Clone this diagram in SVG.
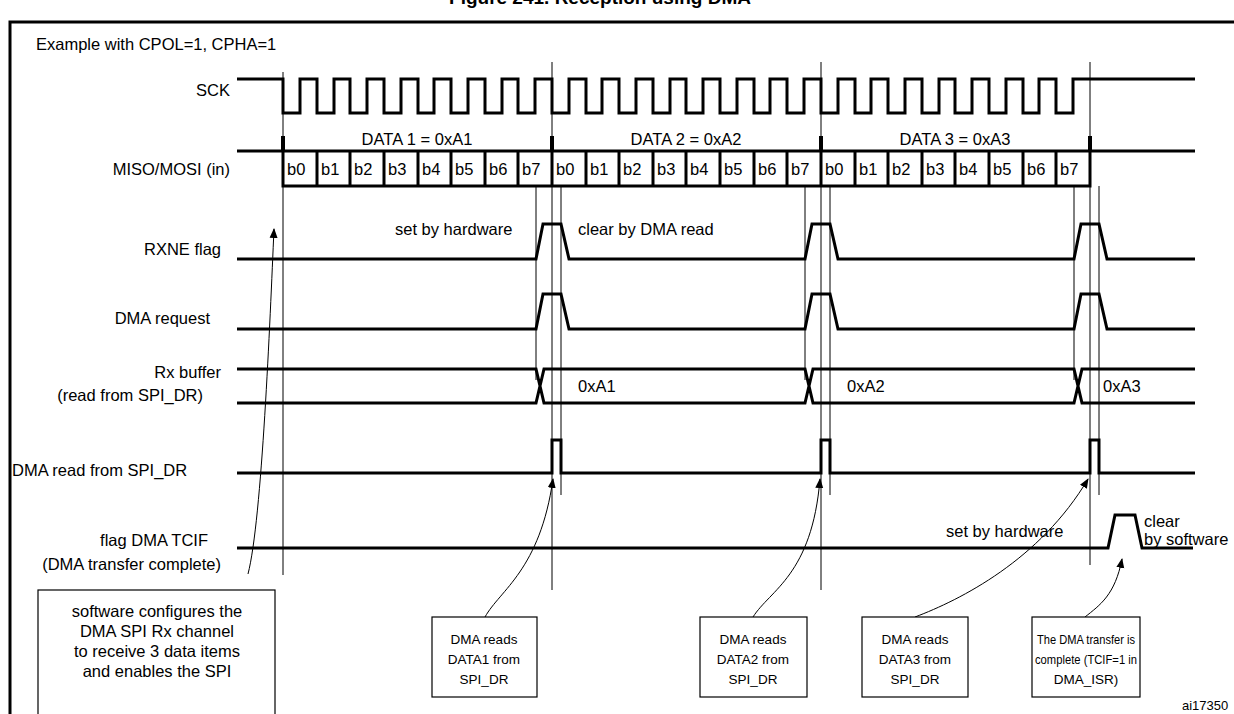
<svg xmlns="http://www.w3.org/2000/svg" width="1234" height="714" viewBox="0 0 1234 714">
<style>
text{font-family:"Liberation Sans",Arial,sans-serif;font-size:16.5px;fill:#000}
.r{text-anchor:end}.m{text-anchor:middle}
.sb{font-size:13.5px}
.s{fill:none;stroke:#000;stroke-width:3}
.t{fill:none;stroke:#000;stroke-width:1}
.box{fill:#fff;stroke:#000;stroke-width:1.2}
.a{fill:none;stroke:#000;stroke-width:1;marker-end:url(#ar)}
</style>
<defs><marker id="ar" markerWidth="10" markerHeight="10" refX="9" refY="5" orient="auto" markerUnits="userSpaceOnUse"><path d="M0,1 L10,5 L0,9 z" fill="#000"/></marker></defs>
<rect width="1234" height="714" fill="#fff"/>
<text x="600" y="4" class="m" style="font-weight:bold;font-size:19px">Figure 241. Reception using DMA</text>
<path d="M10,714 V22 H1234" fill="none" stroke="#000" stroke-width="3"/>
<text x="36" y="50">Example with CPOL=1, CPHA=1</text>
<g id="labels">
<text x="230" y="96" class="r">SCK</text>
<text x="230" y="175" class="r">MISO/MOSI (in)</text>
<text x="221" y="255" class="r">RXNE flag</text>
<text x="210" y="324" class="r">DMA request</text>
<text x="221" y="378" class="r">Rx buffer</text>
<text x="203" y="401" class="r">(read from SPI_DR)</text>
<text x="12" y="476">DMA read from SPI_DR</text>
<text x="208" y="546" class="r">flag DMA TCIF</text>
<text x="221" y="570" class="r">(DMA transfer complete)</text>
</g>
<g id="guides">
<path class="t" d="M283,72V575 M552,62V590 M821,62V590 M1090,62V565"/>
<path class="t" d="M536,186V380 M805,186V380 M1074,186V380 M561,186V495 M830,186V495 M1099,186V495"/>
</g>
<g id="sck">
<path class="s" d="M237,79 H283 V113 H300 V79 H317 V113 H334 V79 H350 V113 H367 V79 H384 V113 H401 V79 H418 V113 H434 V79 H451 V113 H468 V79 H485 V113 H502 V79 H518 V113 H535 V79 H552 V113 H569 V79 H586 V113 H602 V79 H619 V113 H636 V79 H653 V113 H670 V79 H686 V113 H703 V79 H720 V113 H737 V79 H754 V113 H770 V79 H787 V113 H804 V79 H821 V113 H838 V79 H855 V113 H871 V79 H888 V113 H905 V79 H922 V113 H939 V79 H955 V113 H972 V79 H989 V113 H1006 V79 H1023 V113 H1039 V79 H1056 V113 H1073 V79 H1195"/>
</g>
<g id="miso">
<path class="s" d="M237,151 H1195 M283,151 V186 H1090 V151"/>
<path class="s" d="M317,151V186 M350,151V186 M384,151V186 M418,151V186 M451,151V186 M485,151V186 M518,151V186 M552,151V186 M586,151V186 M619,151V186 M653,151V186 M686,151V186 M720,151V186 M754,151V186 M787,151V186 M821,151V186 M855,151V186 M888,151V186 M922,151V186 M955,151V186 M989,151V186 M1023,151V186 M1056,151V186"/>
<path d="M283,136V151 M552,136V151 M821,136V151 M1090,136V151" stroke="#000" stroke-width="4"/>
<text x="417" y="145" class="m">DATA 1 = 0xA1</text>
<text x="686" y="145" class="m">DATA 2 = 0xA2</text>
<text x="955" y="145" class="m">DATA 3 = 0xA3</text>
<g style="font-size:16px">
<text x="287" y="175">b0</text><text x="321" y="175">b1</text><text x="354" y="175">b2</text><text x="388" y="175">b3</text><text x="422" y="175">b4</text><text x="455" y="175">b5</text><text x="489" y="175">b6</text><text x="522" y="175">b7</text>
<text x="556" y="175">b0</text><text x="590" y="175">b1</text><text x="623" y="175">b2</text><text x="657" y="175">b3</text><text x="690" y="175">b4</text><text x="724" y="175">b5</text><text x="758" y="175">b6</text><text x="791" y="175">b7</text>
<text x="825" y="175">b0</text><text x="859" y="175">b1</text><text x="892" y="175">b2</text><text x="926" y="175">b3</text><text x="959" y="175">b4</text><text x="993" y="175">b5</text><text x="1027" y="175">b6</text><text x="1060" y="175">b7</text>
</g>
</g>
<g id="rxne">
<path class="s" d="M237,259 H536 L543,224 H561 L569,259 H805 L812,224 H830 L838,259 H1074 L1081,224 H1099 L1107,259 H1195"/>
<text x="395" y="235">set by hardware</text>
<text x="578" y="235">clear by DMA read</text>
</g>
<g id="dmareq">
<path class="s" d="M237,329 H536 L543,294 H561 L569,329 H805 L812,294 H830 L838,329 H1074 L1081,294 H1099 L1107,329 H1195"/>
</g>
<g id="rxbuf">
<path class="s" d="M237,369 H536 L544,403 H805 L813,369 H1074 L1082,403 H1195 M237,403 H536 L544,369 H805 L813,403 H1074 L1082,369 H1195"/>
<text x="578" y="392">0xA1</text>
<text x="847" y="392">0xA2</text>
<text x="1103" y="392">0xA3</text>
</g>
<g id="dmaread">
<path class="s" d="M237,473 H552 V440 H561 V473 H821 V440 H830 V473 H1090 V440 H1099 V473 H1195"/>
</g>
<g id="tcif">
<path class="s" d="M237,548 H1108 L1115,515 H1135 L1142,548 H1193"/>
<text x="946" y="537">set by hardware</text>
<text x="1144" y="527">clear</text>
<text x="1144" y="545">by software</text>
</g>
<g id="connectors">
<path class="a" d="M248,574 C262,520 270,320 274,229"/>
<path class="a" d="M485,617 C500,590 540,570 553,479"/>
<path class="a" d="M753,617 C770,590 812,575 820,479"/>
<path class="a" d="M915,617 C960,600 1040,560 1088,479"/>
<path class="a" d="M1085,617 C1100,605 1115,595 1122,559"/>
</g>
<g id="box1"><rect class="box" x="38" y="590" width="237" height="130"/>
<text x="157" y="617" class="m">software configures the</text><text x="157" y="637" class="m">DMA SPI Rx channel</text><text x="157" y="657" class="m">to receive 3 data items</text><text x="157" y="677" class="m">and enables the SPI</text></g>
<g id="box2"><rect class="box" x="432" y="617" width="105" height="80"/>
<text x="484" y="644" class="m sb">DMA reads</text><text x="484" y="664" class="m sb">DATA1 from</text><text x="484" y="684" class="m sb">SPI_DR</text></g>
<g id="box3"><rect class="box" x="700" y="617" width="107" height="80"/>
<text x="753" y="644" class="m sb">DMA reads</text><text x="753" y="664" class="m sb">DATA2 from</text><text x="753" y="684" class="m sb">SPI_DR</text></g>
<g id="box4"><rect class="box" x="862" y="617" width="106" height="80"/>
<text x="915" y="644" class="m sb">DMA reads</text><text x="915" y="664" class="m sb">DATA3 from</text><text x="915" y="684" class="m sb">SPI_DR</text></g>
<g id="box5"><rect class="box" x="1032" y="617" width="108" height="80"/>
<text x="1086" y="644" class="m sb" textLength="98" lengthAdjust="spacingAndGlyphs">The DMA transfer is</text><text x="1086" y="664" class="m sb" textLength="102" lengthAdjust="spacingAndGlyphs">complete (TCIF=1 in</text><text x="1086" y="684" class="m sb">DMA_ISR)</text></g>
<text x="1182" y="710" style="font-size:13px">ai17350</text>
</svg>
